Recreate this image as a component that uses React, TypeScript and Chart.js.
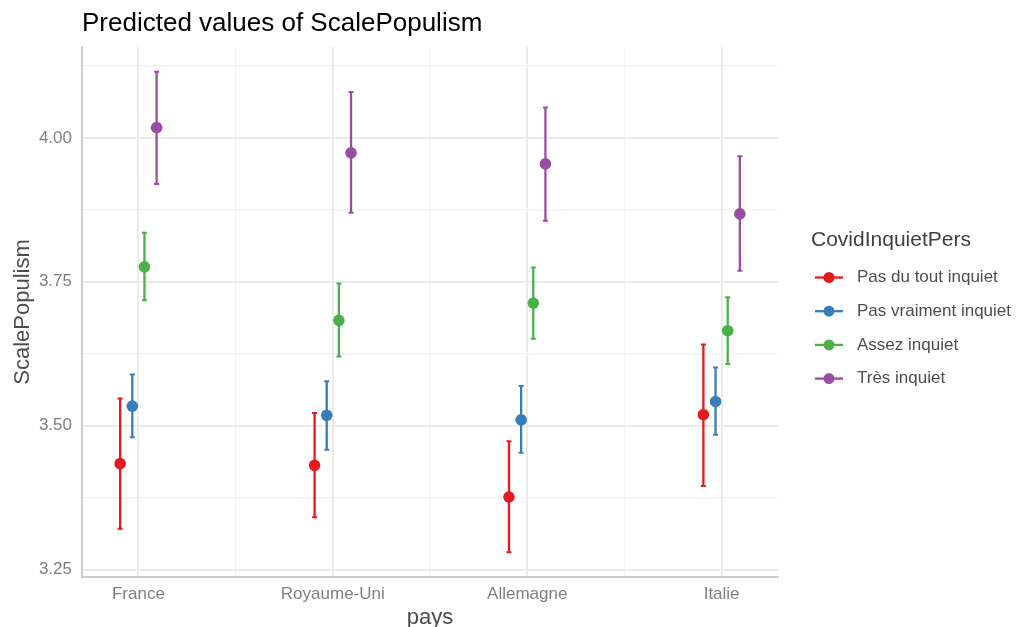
import React, { useEffect, useRef } from "react";
import { Chart, registerables } from "chart.js";

Chart.register(...registerables);

const categories = ["France", "Royaume-Uni", "Allemagne", "Italie"];
const seriesNames = ["Pas du tout inquiet", "Pas vraiment inquiet", "Assez inquiet", "Très inquiet"];
const seriesColors = ["#E41A1C", "#377EB8", "#4DAF4A", "#984EA3"];

const pasDuToutValues = [3.434, 3.431, 3.376, 3.519];
const pasDuToutLow = [3.321, 3.341, 3.280, 3.395];
const pasDuToutHigh = [3.547, 3.522, 3.473, 3.641];

const pasVraimentValues = [3.534, 3.518, 3.510, 3.542];
const pasVraimentLow = [3.480, 3.458, 3.453, 3.484];
const pasVraimentHigh = [3.589, 3.577, 3.569, 3.601];

const assezValues = [3.776, 3.683, 3.713, 3.665];
const assezLow = [3.718, 3.620, 3.651, 3.607];
const assezHigh = [3.835, 3.747, 3.775, 3.723];

const tresValues = [4.018, 3.974, 3.955, 3.868];
const tresLow = [3.920, 3.870, 3.856, 3.769];
const tresHigh = [4.115, 4.080, 4.053, 3.968];

const yTicks = [3.25, 3.375, 3.5, 3.625, 3.75, 3.875, 4.0, 4.125];
const yMajor = [3.25, 3.5, 3.75, 4.0];
const xTicks = [0, 0.5, 1, 1.5, 2, 2.5, 3];

const DODGE_WIDTH = 0.25;
const FONT = "'Liberation Sans', Arial, sans-serif";

const allValues = [pasDuToutValues, pasVraimentValues, assezValues, tresValues];
const allLow = [pasDuToutLow, pasVraimentLow, assezLow, tresLow];
const allHigh = [pasDuToutHigh, pasVraimentHigh, assezHigh, tresHigh];

const errorBarPlugin = {
  id: "errorBars",
  beforeDatasetsDraw(chart: any) {
    const { ctx, scales } = chart;
    const x = scales.x, y = scales.y;
    chart.data.datasets.forEach((ds: any) => {
      ctx.save();
      ctx.strokeStyle = ds.borderColor;
      ctx.lineWidth = 2.3;
      ds.data.forEach((pt: any) => {
        const px = x.getPixelForValue(pt.x);
        const yl = y.getPixelForValue(pt.low);
        const yh = y.getPixelForValue(pt.high);
        ctx.beginPath();
        ctx.moveTo(px, yl);
        ctx.lineTo(px, yh);
        ctx.stroke();
        ctx.lineWidth = 2;
        ctx.beginPath();
        ctx.moveTo(px - 2.5, yl);
        ctx.lineTo(px + 2.5, yl);
        ctx.moveTo(px - 2.5, yh);
        ctx.lineTo(px + 2.5, yh);
        ctx.stroke();
        ctx.lineWidth = 2.3;
      });
      ctx.restore();
    });
  },
};

const textPlugin = {
  id: "texts",
  afterDraw(chart: any) {
    const { ctx, chartArea } = chart;
    ctx.save();
    // Title
    ctx.fillStyle = "#000000";
    ctx.font = `26px ${FONT}`;
    ctx.textAlign = "left";
    ctx.textBaseline = "alphabetic";
    ctx.fillText("Predicted values of ScalePopulism", chartArea.left, 31);

    // Legend
    const lx = chartArea.right + 33;
    ctx.fillStyle = "#3F3F3F";
    ctx.font = `21px ${FONT}`;
    ctx.textBaseline = "middle";
    ctx.fillText("CovidInquietPers", lx, 240);
    chart.data.datasets.forEach((ds: any, i: number) => {
      const cy = 277.5 + i * 33.7;
      const sx = chartArea.right + 37;
      ctx.strokeStyle = ds.borderColor;
      ctx.lineWidth = 2.3;
      ctx.beginPath();
      ctx.moveTo(sx, cy);
      ctx.lineTo(sx + 28, cy);
      ctx.stroke();
      ctx.fillStyle = ds.backgroundColor;
      ctx.beginPath();
      ctx.arc(sx + 14, cy, 5.5, 0, Math.PI * 2);
      ctx.fill();
      ctx.fillStyle = "#4D4D4D";
      ctx.font = `17px ${FONT}`;
      ctx.fillText(ds.label, chartArea.right + 79, cy);
    });
    ctx.restore();
  },
};

export default function App() {
  const ref = useRef<HTMLCanvasElement | null>(null);
  useEffect(() => {
    if (!ref.current) return;
    const datasets = seriesNames.map((name, s) => {
      const offset = (s - (seriesNames.length - 1) / 2) * (DODGE_WIDTH / seriesNames.length);
      return {
        label: name,
        data: categories.map((_, i) => ({
          x: i + offset,
          y: allValues[s][i],
          low: allLow[s][i],
          high: allHigh[s][i],
        })),
        borderColor: seriesColors[s],
        backgroundColor: seriesColors[s],
        pointRadius: 5.8,
        pointBorderWidth: 0,
        showLine: false,
      };
    });
    const isMajorY = (v: number) => yMajor.some((m) => Math.abs(m - v) < 1e-6);
    const isMajorX = (v: number) => Math.abs(v - Math.round(v)) < 1e-6;
    const chart = new Chart(ref.current, {
      type: "scatter",
      data: { datasets: datasets as any },
      options: {
        animation: false,
        responsive: false,
        layout: { padding: { left: 0, top: 47, right: 249, bottom: 0 } },
        plugins: { legend: { display: false }, tooltip: { enabled: false }, title: { display: false } },
        scales: {
          x: {
            type: "linear",
            min: -0.29,
            max: 3.29,
            afterBuildTicks: (scale: any) => {
              scale.ticks = xTicks.map((v) => ({ value: v }));
            },
            afterFit: (scale: any) => {
              scale.height = 50;
            },
            ticks: {
              autoSkip: false,
              maxRotation: 0,
              padding: 7,
              color: "#808080",
              font: { family: FONT, size: 17 },
              callback: (v: any) => (isMajorX(Number(v)) ? categories[Math.round(Number(v))] : ""),
            },
            grid: {
              drawTicks: false,
              color: (c: any) => (c.tick && isMajorX(c.tick.value) ? "#EBEBEB" : "#F2F2F2"),
              lineWidth: (c: any) => (c.tick && isMajorX(c.tick.value) ? 2 : 1.2),
            },
            border: { display: true, color: "#CCCCCC", width: 2 },
            title: {
              display: true,
              text: "pays",
              color: "#4D4D4D",
              font: { family: FONT, size: 22, lineHeight: 0.82 },
              padding: { top: 0, bottom: 0 },
            },
          },
          y: {
            type: "linear",
            min: 3.237,
            max: 4.158,
            afterBuildTicks: (scale: any) => {
              scale.ticks = yTicks.map((v) => ({ value: v }));
            },
            afterFit: (scale: any) => {
              scale.width = 82;
            },
            ticks: {
              padding: 10,
              color: "#808080",
              font: { family: FONT, size: 17 },
              callback: (v: any) => (isMajorY(Number(v)) ? Number(v).toFixed(2) : ""),
            },
            grid: {
              drawTicks: false,
              color: (c: any) => (c.tick && isMajorY(c.tick.value) ? "#EBEBEB" : "#F2F2F2"),
              lineWidth: (c: any) => (c.tick && isMajorY(c.tick.value) ? 2 : 1.2),
            },
            border: { display: true, color: "#CCCCCC", width: 2 },
            title: {
              display: true,
              text: "ScalePopulism",
              color: "#4D4D4D",
              font: { family: FONT, size: 22 },
              padding: { top: 10, bottom: 0 },
            },
          },
        },
      },
      plugins: [errorBarPlugin, textPlugin],
    });
    return () => chart.destroy();
  }, []);
  return (
    <div style={{ position: "absolute", left: 0, top: 0, width: 1027, height: 627, background: "#fff" }}>
      <canvas ref={ref} width={1027} height={627} style={{ width: 1027, height: 627 }} />
    </div>
  );
}
